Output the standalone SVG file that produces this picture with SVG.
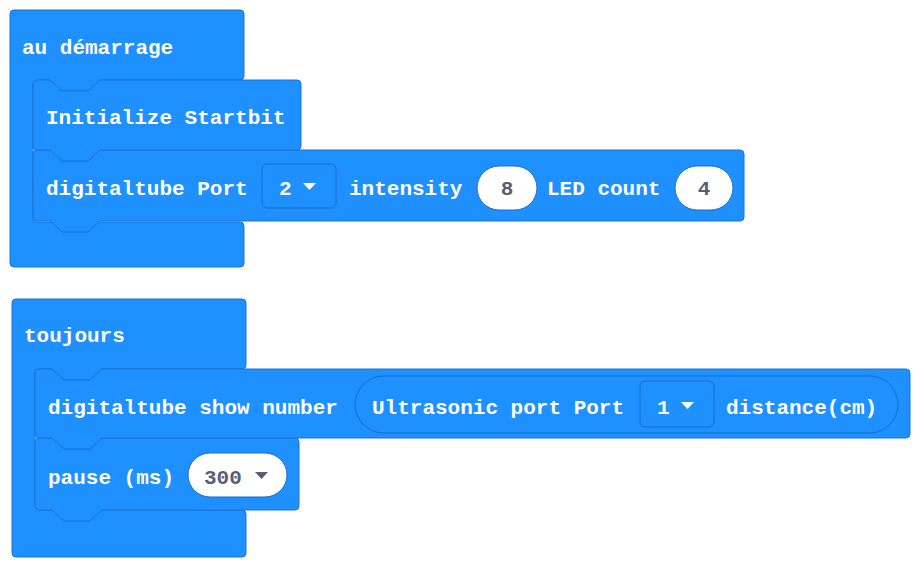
<svg xmlns="http://www.w3.org/2000/svg" width="924" height="568" viewBox="0 0 924 568">
<style>
.blk{fill:#1e90ff;stroke:#1a73d0;stroke-width:1}
.dd{fill:#1e90ff;stroke:#1a6cc4;stroke-width:1}
.ov{fill:#fff;stroke:#1a6cc4;stroke-width:1}
.t{font-family:"Liberation Mono","DejaVu Sans Mono",monospace;font-weight:bold;font-size:21px;fill:#fff}
.d{fill:#575e75}
.tri{fill:#fff}
</style>
<rect width="924" height="568" fill="#fff"/>
<g id="on-start">
<path class="blk" d="M10,14 Q10,10 14,10 H240 Q244,10 244,14 V76 Q244,80 240,80 H100 L88,91 H62 L50,80 H37 Q33,80 33,84 V218 Q33,222 37,222 H240 Q244,222 244,226 V263 Q244,267 240,267 H14 Q10,267 10,263 Z"/>
<text class="t" x="22" y="54">au démarrage</text>
</g>
<g id="digitaltube-port">
<path class="blk" d="M33,154 Q33,150 37,150 H50 L62,161 H88 L100,150 H740 Q744,150 744,154 V217 Q744,221 740,221 H100 L88,232 H62 L50,221 H37 Q33,221 33,217 Z"/>
<text class="t" x="46" y="195">digitaltube Port</text>
<rect class="dd" x="262" y="164" width="74" height="44" rx="5"/>
<text class="t" x="279" y="195">2</text>
<path class="tri" d="M303,183 h13 l-6.5,7 z"/>
<text class="t" x="349" y="195">intensity</text>
<rect class="ov" x="477" y="166" width="60" height="44" rx="22"/>
<text class="t d" x="507" y="195" text-anchor="middle">8</text>
<text class="t" x="547" y="195">LED count</text>
<rect class="ov" x="675" y="166" width="58" height="44" rx="22"/>
<text class="t d" x="704" y="195" text-anchor="middle">4</text>
</g>
<g id="init-startbit">
<path class="blk" d="M33,84 Q33,80 37,80 H50 L62,91 H88 L100,80 H297 Q301,80 301,84 V146 Q301,150 297,150 H100 L88,161 H62 L50,150 H37 Q33,150 33,146 Z"/>
<text class="t" x="46" y="124">Initialize Startbit</text>
</g>
<g id="forever">
<path class="blk" d="M12,303 Q12,299 16,299 H242 Q246,299 246,303 V365 Q246,369 242,369 H102 L90,380 H64 L52,369 H39 Q35,369 35,373 V506 Q35,510 39,510 H242 Q246,510 246,514 V553 Q246,557 242,557 H16 Q12,557 12,553 Z"/>
<text class="t" x="24" y="342">toujours</text>
</g>
<g id="pause">
<path class="blk" d="M35,442 Q35,438 39,438 H52 L64,449 H90 L102,438 H295 Q299,438 299,442 V506 Q299,510 295,510 H102 L90,521 H64 L52,510 H39 Q35,510 35,506 Z"/>
<text class="t" x="48" y="484">pause (ms)</text>
<rect class="ov" x="188" y="453" width="99" height="44" rx="22"/>
<text class="t d" x="204" y="484">300</text>
<path class="d" d="M255,472 h13 l-6.5,7 z"/>
</g>
<g id="show-number">
<path class="blk" d="M35,373 Q35,369 39,369 H52 L64,380 H90 L102,369 H906 Q910,369 910,373 V434 Q910,438 906,438 H102 L90,449 H64 L52,438 H39 Q35,438 35,434 Z"/>
<text class="t" x="48" y="414">digitaltube show number</text>
<rect class="dd" x="355" y="376" width="543" height="57" rx="28.5"/>
<text class="t" x="372" y="414">Ultrasonic port Port</text>
<rect class="dd" x="640" y="381" width="74" height="46" rx="5"/>
<text class="t" x="657" y="414">1</text>
<path class="tri" d="M681,402 h13 l-6.5,7 z"/>
<text class="t" x="726" y="414">distance(cm)</text>
</g>
</svg>
